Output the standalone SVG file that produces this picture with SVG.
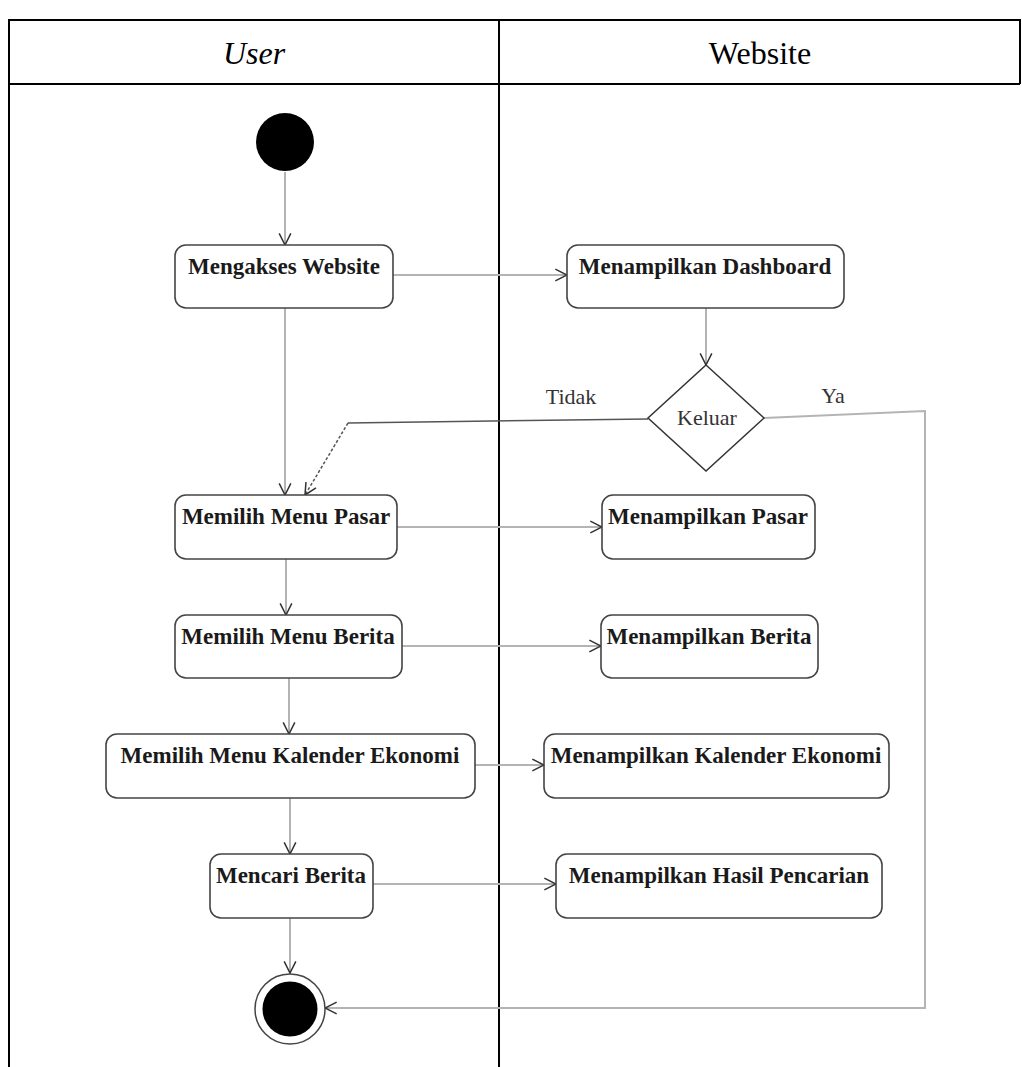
<svg xmlns="http://www.w3.org/2000/svg" width="1022" height="1067" viewBox="0 0 1022 1067">
  <style>
    .lane { stroke: #000; stroke-width: 2; fill: none; }
    .hdr { font-family: "Liberation Serif", "Times New Roman", serif; font-size: 32px; fill: #000; text-anchor: middle; }
    .act rect { fill: #fff; stroke: #444; stroke-width: 1.6; }
    .act text { font-family: "Liberation Serif", "Times New Roman", serif; font-weight: bold; font-size: 23px; fill: #1a1a1a; text-anchor: middle; }
    .lbl { font-family: "Liberation Serif", "Times New Roman", serif; font-size: 22px; fill: #333; text-anchor: middle; }
    .flow { stroke: #b4b4b4; stroke-width: 2; fill: none; }
    .flow.arrow { marker-end: url(#open); }
    .guard { stroke: #555; stroke-width: 1.5; fill: none; }
  </style>
  <defs>
    <marker id="open" markerUnits="userSpaceOnUse" markerWidth="14" markerHeight="14" viewBox="0 0 12 12" refX="11" refY="6" orient="auto">
      <path d="M1,1 L11,6 L1,11" fill="none" stroke="#333" stroke-width="1.3"/>
    </marker>
  </defs>

  <!-- swimlane frame -->
  <g id="lanes">
    <rect x="0" y="0" width="1022" height="1067" fill="#fff"/>
    <path class="lane" d="M9,1067 V20 H1020 V84 M9,84 H1020 M499,20 V1067"/>
    <text class="hdr" x="254" y="64" font-style="italic">User</text>
    <text class="hdr" x="760" y="64">Website</text>
  </g>

  <!-- connectors -->
  <g id="connectors">
    <line class="flow arrow" x1="285" y1="172" x2="285" y2="245"/>
    <line class="flow arrow" x1="393" y1="275" x2="567" y2="275"/>
    <line class="flow arrow" x1="706" y1="308" x2="706" y2="365"/>
    <line class="flow arrow" x1="285" y1="308" x2="285" y2="495"/>
    <polyline class="guard" points="648,419 348,423"/>
    <line class="guard" x1="348" y1="423" x2="305" y2="495" stroke-dasharray="3,2" marker-end="url(#open)"/>
    <polyline class="flow arrow" points="764,418 925,411 925,1008 325,1008"/>
    <line class="flow arrow" x1="397" y1="527" x2="602" y2="527"/>
    <line class="flow arrow" x1="286" y1="559" x2="286" y2="615"/>
    <line class="flow arrow" x1="402" y1="646" x2="601" y2="646"/>
    <line class="flow arrow" x1="289" y1="678" x2="289" y2="734"/>
    <line class="flow arrow" x1="475" y1="765" x2="544" y2="765"/>
    <line class="flow arrow" x1="290" y1="798" x2="290" y2="854"/>
    <line class="flow arrow" x1="373" y1="884" x2="556" y2="884"/>
    <line class="flow arrow" x1="290" y1="918" x2="290" y2="973"/>
    <text class="lbl" x="571" y="404">Tidak</text>
    <text class="lbl" x="833" y="403">Ya</text>
  </g>

  <!-- nodes -->
  <g id="start">
    <circle cx="285" cy="142" r="29" fill="#000"/>
  </g>
  <g id="mengakses-website" class="act">
    <rect x="175" y="245" width="218" height="63" rx="11"/>
    <text x="284" y="274">Mengakses Website</text>
  </g>
  <g id="menampilkan-dashboard" class="act">
    <rect x="567" y="245" width="277" height="63" rx="11"/>
    <text x="705" y="274">Menampilkan Dashboard</text>
  </g>
  <g id="keluar">
    <polygon points="706,365 764,418 706,471 648,418" fill="#fff" stroke="#333" stroke-width="1.5"/>
    <text class="lbl" x="707" y="425" fill="#222">Keluar</text>
  </g>
  <g id="memilih-menu-pasar" class="act">
    <rect x="175" y="495" width="222" height="64" rx="11"/>
    <text x="286" y="524">Memilih Menu Pasar</text>
  </g>
  <g id="menampilkan-pasar" class="act">
    <rect x="602" y="495" width="213" height="64" rx="11"/>
    <text x="708" y="524">Menampilkan Pasar</text>
  </g>
  <g id="memilih-menu-berita" class="act">
    <rect x="175" y="615" width="227" height="63" rx="11"/>
    <text x="288" y="644">Memilih Menu Berita</text>
  </g>
  <g id="menampilkan-berita" class="act">
    <rect x="601" y="615" width="217" height="63" rx="11"/>
    <text x="709" y="644">Menampilkan Berita</text>
  </g>
  <g id="memilih-menu-kalender" class="act">
    <rect x="106" y="734" width="369" height="64" rx="11"/>
    <text x="290" y="763">Memilih Menu Kalender Ekonomi</text>
  </g>
  <g id="menampilkan-kalender" class="act">
    <rect x="544" y="734" width="345" height="64" rx="11"/>
    <text x="716" y="763">Menampilkan Kalender Ekonomi</text>
  </g>
  <g id="mencari-berita" class="act">
    <rect x="210" y="854" width="163" height="64" rx="11"/>
    <text x="291" y="883">Mencari Berita</text>
  </g>
  <g id="menampilkan-hasil" class="act">
    <rect x="556" y="854" width="326" height="64" rx="11"/>
    <text x="719" y="883">Menampilkan Hasil Pencarian</text>
  </g>
  <g id="end">
    <circle cx="290" cy="1009" r="35" fill="#fff" stroke="#444" stroke-width="1.5"/>
    <circle cx="290" cy="1009" r="27.5" fill="#000"/>
  </g>
</svg>
